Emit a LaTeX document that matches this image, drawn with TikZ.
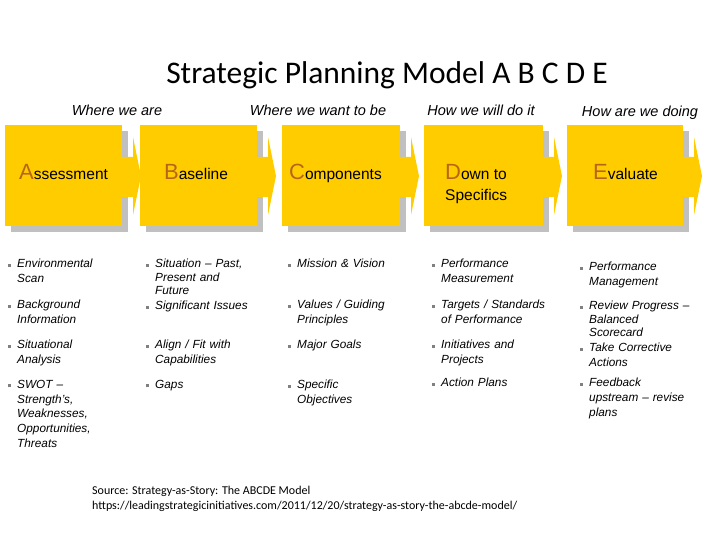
\documentclass[tikz,border=0pt]{standalone}
\usepackage{fontspec}
\setmainfont{Liberation Sans}
\newfontfamily\cali{Carlito}
\newfontfamily\dv{DejaVu Sans}
\definecolor{yel}{HTML}{FFCC00}
\definecolor{sh}{HTML}{C0C0C0}
\definecolor{let}{HTML}{B8651A}
\begin{document}
\begin{tikzpicture}[x=1pt,y=-1pt,
  stage/.style={fill=yel,draw=none},
  shad/.style={fill=sh,draw=none},
  phase/.style={font=\itshape\fontsize{14.5}{15}\selectfont,anchor=base},
  hdr/.style={font=\fontsize{15.5}{17}\selectfont,align=left,anchor=base west,inner sep=0pt},
  item/.style={font=\itshape\fontsize{11.8}{14.7}\selectfont,align=left,anchor=north west,inner sep=0pt},
  tight/.style={font=\itshape\fontsize{11.8}{13.4}\selectfont}]
\useasboundingbox (0,0) rectangle (720,540);
\node[font=\cali\fontsize{31.5}{34}\selectfont,anchor=base] (title) at (387,84) {Strategic Planning Model A B C D E};
\node[phase] (p1) at (117,116) {Where we are};
\node[phase] (p2) at (318,116) {Where we want to be};
\node[phase] (p3) at (481,116) {How we will do it};
\node[phase] (p4) at (640,117) {How are we doing};
% boxes
\foreach \n/\x/\w in {a/5/117,b/140/117,c/282/118,d/424/119,e/567/116}{
  \fill[shad] (\x+6,131) rectangle (\x+\w+6,232);
  \fill[stage] (\x+\w-2,157) -- (\x+\w+11,157) -- (\x+\w+11,137) -- (\x+\w+19,176) -- (\x+\w+11,215) -- (\x+\w+11,197) -- (\x+\w-2,197) -- cycle;
  \fill[stage] (\x,125) rectangle (\x+\w,226);
  \coordinate (\n) at (\x,125);
}
\node[hdr] (ha) at (19,180) {\textcolor{let}{\fontsize{22}{22}\selectfont A}ssessment};
\node[hdr] (hb) at (164,180) {\textcolor{let}{\fontsize{22}{22}\selectfont B}aseline};
\node[hdr] (hc) at (289,180) {\textcolor{let}{\fontsize{22}{22}\selectfont C}omponents};
\node[hdr] (hd) at (445,180) {\textcolor{let}{\fontsize{22}{22}\selectfont D}own to};
\node[hdr] (hd2) at (445,201) {Specifics};
\node[hdr] (he) at (593,180) {\textcolor{let}{\fontsize{22}{22}\selectfont E}valuate};
% items
\newcommand\bl[6][]{\node[item,text width=#4,#1] (#6) at (#2,#3) {\llap{\raisebox{1pt}{\textcolor{gray}{\rule{3pt}{3pt}}}\hspace{6pt}}#5};}
\bl{17}{259}{100}{Environmental\\Scan}{i1}
\bl{17}{300}{100}{Background\\Information}{i2}
\bl{17}{340}{100}{Situational\\Analysis}{i3}
\bl{17}{380}{100}{SWOT –\\Strength’s,\\Weaknesses,\\Opportunities,\\Threats}{i4}
\bl[tight]{155}{259}{120}{Situation – Past,\\Present and\\Future}{j1}
\bl{155}{301}{120}{Significant Issues}{j2}
\bl{155}{340}{120}{Align / Fit with\\Capabilities}{j3}
\bl{155}{380}{120}{Gaps}{j4}
\bl{297}{259}{130}{Mission \& Vision}{k1}
\bl{297}{300}{130}{Values / Guiding\\Principles}{k2}
\bl{297}{340}{130}{Major Goals}{k3}
\bl{297}{380}{130}{Specific\\Objectives}{k4}
\bl{441}{259}{130}{Performance\\Measurement}{l1}
\bl{441}{300}{130}{Targets / Standards\\of Performance}{l2}
\bl{441}{340}{130}{Initiatives and\\Projects}{l3}
\bl{441}{378}{130}{Action Plans}{l4}
\bl{589}{262}{130}{Performance\\Management}{m1}
\bl[tight]{589}{301}{130}{Review Progress –\\Balanced\\Scorecard}{m2}
\bl{589}{343}{130}{Take Corrective\\Actions}{m3}
\bl{589}{378}{130}{Feedback\\upstream – revise\\plans}{m4}
\node[font=\cali\fontsize{12}{15}\selectfont,align=left,anchor=north west,inner sep=0pt] (src) at (92,486) {Source: Strategy-as-Story: The ABCDE Model\\https://leadingstrategicinitiatives.com/2011/12/20/strategy-as-story-the-abcde-model/};
\end{tikzpicture}
\end{document}
